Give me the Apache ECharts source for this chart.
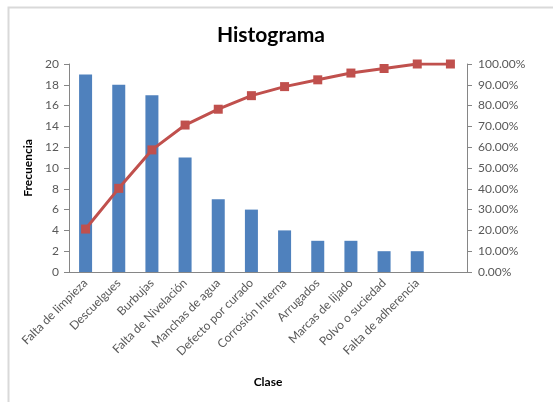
<!DOCTYPE html>
<html lang="es">
<head>
    <meta charset="UTF-8">
    <title>Histograma</title>
    <script src="https://cdn.jsdelivr.net/npm/echarts@6/dist/echarts.min.js"></script>
    <style>
        * { margin: 0; padding: 0; box-sizing: border-box; }
        body { background: #fff; }
        #chart { width: 553px; height: 402px; }
    </style>
</head>
<body>
<div id="chart"></div>
<script>
    // datos
    const clases = ['Falta de limpieza', 'Descuelgues', 'Burbujas', 'Falta de Nivelación',
        'Manchas de agua', 'Defecto por curado', 'Corrosión Interna', 'Arrugados',
        'Marcas de lijado', 'Polvo o suciedad', 'Falta de adherencia', ''];
    const frecuencia = [19, 18, 17, 11, 7, 6, 4, 3, 3, 2, 2, null];
    const acumulado = [20.65, 40.22, 58.70, 70.65, 78.26, 84.78, 89.13, 92.39, 95.65, 97.83, 100, 100];

    const fuente = 'Lato, "Open Sans", sans-serif';
    const gris = '#868686';
    const texto = '#595959';

    let myChart = echarts.init(document.getElementById('chart'));

    let option = {
        animation: false,
        textStyle: { fontFamily: fuente },
        title: {
            text: 'Histograma',
            left: 212,
            top: 20,
            textStyle: { fontSize: 21, fontWeight: 'bold', color: '#000', fontFamily: fuente }
        },
        graphic: [{
            type: 'rect',
            shape: { x: 8.5, y: 7.5, width: 560, height: 410 },
            style: { fill: 'none', stroke: '#d9d9d9', lineWidth: 2 }
        }],
        grid: { left: 69, right: 86, top: 64, bottom: 130 },
        xAxis: {
            type: 'category',
            data: clases,
            name: 'Clase',
            nameLocation: 'middle',
            nameGap: 104,
            nameTextStyle: { fontWeight: 'bold', fontSize: 12, color: '#000' },
            axisLine: { lineStyle: { color: gris } },
            axisTick: { length: 4, lineStyle: { color: gris } },
            axisLabel: { interval: 0, rotate: 45, fontSize: 12, color: texto, margin: 9 }
        },
        yAxis: [{
            type: 'value',
            min: 0, max: 20, interval: 2,
            name: 'Frecuencia',
            nameLocation: 'middle',
            nameGap: 27,
            nameTextStyle: { fontWeight: 'bold', fontSize: 12, color: '#000' },
            axisLine: { show: true, lineStyle: { color: gris } },
            axisTick: { show: true, length: 5, lineStyle: { color: gris } },
            axisLabel: { fontSize: 12, color: texto, margin: 10 },
            splitLine: { show: false }
        }, {
            type: 'value',
            min: 0, max: 100, interval: 10,
            axisLine: { show: true, lineStyle: { color: gris } },
            axisTick: { show: true, length: 5, lineStyle: { color: gris } },
            axisLabel: {
                fontSize: 12, color: texto, margin: 11,
                formatter: function (v) { return v.toFixed(2) + '%'; }
            },
            splitLine: { show: false }
        }],
        series: [{
            name: 'Frecuencia',
            type: 'bar',
            data: frecuencia,
            barWidth: 13,
            itemStyle: { color: '#4F81BD' }
        }, {
            name: 'Acumulado',
            type: 'line',
            yAxisIndex: 1,
            data: acumulado,
            symbol: 'rect',
            symbolSize: 9,
            lineStyle: { color: '#C0504D', width: 3 },
            itemStyle: { color: '#C0504D' }
        }]
    };

    myChart.setOption(option);
</script>
</body>
</html>
